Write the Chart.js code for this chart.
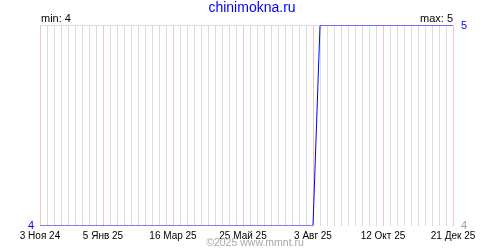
<!DOCTYPE html>
<html>
<head>
<meta charset="utf-8">
<script src="https://cdn.jsdelivr.net/npm/chart.js@4"></script>
<style>
html,body{margin:0;padding:0;background:#fff;}
#wrap{width:500px;height:250px;}
</style>
</head>
<body>
<div id="wrap"><canvas id="c" width="500" height="250"></canvas></div>
<script>
// Weekly observations, 3 Nov 2024 .. 21 Dec 2025 (60 weeks)
const values = [
  4,4,4,4,4,4,4,4,4,4,
  4,4,4,4,4,4,4,4,4,4,
  4,4,4,4,4,4,4,4,4,4,
  4,4,4,4,4,4,4,4,4,4,
  5,5,5,5,5,5,5,5,5,5,
  5,5,5,5,5,5,5,5,5,5
];
const tickWeeks = [0, 9, 19, 29, 39, 49, 59];
const tickLabels = ["3 Ноя 24", "5 Янв 25", "16 Мар 25", "25 Май 25", "3 Авг 25", "12 Окт 25", "21 Дек 25"];
const titleText = "chinimokna.ru";
const minText = "min: 4";
const maxText = "max: 5";
const footerText = "©2025 www.mmnt.ru";
const yMin = 4, yMax = 5;

const categories = values.map((v, i) => i);
const FONT = "'Liberation Sans', Arial, sans-serif";

const textPlugin = {
  id: 'texts',
  afterDraw(chart) {
    const ctx = chart.ctx, a = chart.chartArea;
    ctx.save();
    ctx.textBaseline = 'middle';
    ctx.font = '14px ' + FONT;
    ctx.fillStyle = '#0000ff';
    ctx.textAlign = 'center';
    ctx.fillText(titleText, 252, 8);
    ctx.font = '11px ' + FONT;
    ctx.fillStyle = '#000';
    ctx.textAlign = 'left';
    ctx.fillText(minText, a.left + 1, 19);
    ctx.textAlign = 'right';
    ctx.fillText(maxText, a.right, 19);
    ctx.font = '10.5px ' + FONT;
    ctx.fillStyle = '#a8a8a8';
    ctx.textAlign = 'center';
    ctx.fillText(footerText, 255, 243);
    ctx.restore();
  }
};

new Chart(document.getElementById('c'), {
  type: 'line',
  data: {
    labels: categories,
    datasets: [{
      data: values,
      borderColor: '#0000ff',
      borderWidth: 1,
      pointRadius: 0,
      tension: 0,
      fill: false,
      yAxisID: 'y'
    }]
  },
  options: {
    responsive: false,
    animation: false,
    devicePixelRatio: 1,
    layout: { padding: { top: 25.5, left: 0, right: 0, bottom: 0 } },
    plugins: { legend: { display: false }, tooltip: { enabled: false }, title: { display: false } },
    scales: {
      x: {
        type: 'category',
        offset: false,
        border: { display: false },
        grid: {
          drawTicks: false,
          color: ctx => tickWeeks.includes(ctx.index) ? '#ffc0c0' : '#dcdcdc'
        },
        ticks: {
          autoSkip: false,
          maxRotation: 0,
          padding: 5,
          color: '#000',
          font: { family: FONT, size: 10 },
          callback: (v, i) => {
            const k = tickWeeks.indexOf(i);
            return k >= 0 ? tickLabels[k] : '';
          }
        },
        afterFit: s => { s.height = 24.5; }
      },
      y: {
        position: 'left',
        min: yMin, max: yMax,
        border: { display: false },
        grid: {
          drawTicks: false,
          color: ctx => (ctx.tick && ctx.tick.value === yMax) ? '#dcdcdc' : 'rgba(0,0,0,0)'
        },
        ticks: {
          stepSize: 1,
          padding: 6,
          color: '#0000ff',
          font: { family: FONT, size: 11 },
          callback: v => v === yMin ? String(v) : ''
        },
        afterFit: s => { s.width = 40; }
      },
      y2: {
        position: 'right',
        min: yMin, max: yMax,
        border: { display: false },
        grid: { display: false, drawTicks: false },
        ticks: {
          stepSize: 1,
          padding: 8,
          color: ctx => ctx.tick && ctx.tick.value === yMax ? '#0000ff' : '#a0a0a0',
          font: { family: FONT, size: 11 },
          callback: v => String(v)
        },
        afterFit: s => { s.width = 47; }
      }
    }
  },
  plugins: [textPlugin]
});
</script>
</body>
</html>
